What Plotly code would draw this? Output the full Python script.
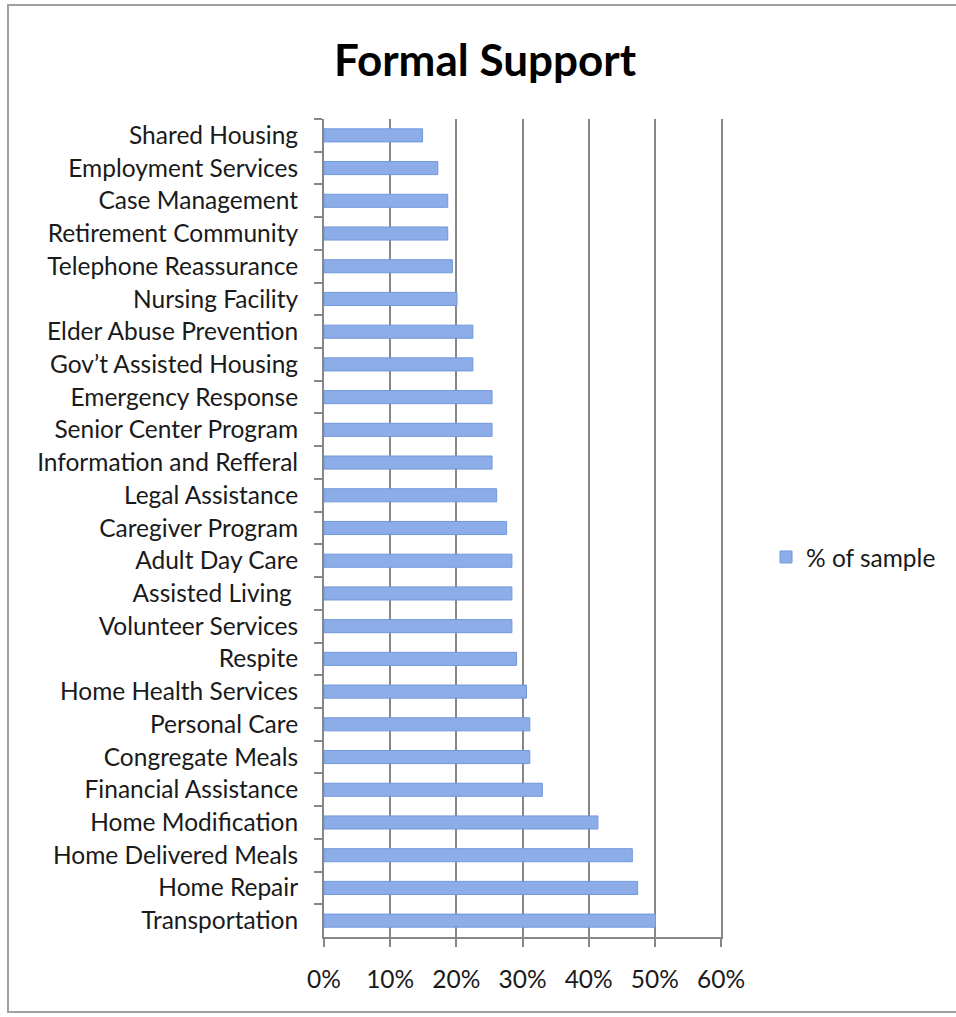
import plotly.graph_objects as go

categories = [
    "Shared Housing", "Employment Services", "Case Management", "Retirement Community",
    "Telephone Reassurance", "Nursing Facility", "Elder Abuse Prevention",
    "Gov\u2019t Assisted Housing", "Emergency Response", "Senior Center Program",
    "Information and Refferal", "Legal Assistance", "Caregiver Program",
    "Adult Day Care", "Assisted Living ", "Volunteer Services", "Respite",
    "Home Health Services", "Personal Care", "Congregate Meals",
    "Financial Assistance", "Home Modification", "Home Delivered Meals",
    "Home Repair", "Transportation",
]
pct_of_sample = [
    0.149, 0.172, 0.187, 0.187, 0.194, 0.201, 0.225, 0.225, 0.254, 0.254,
    0.254, 0.261, 0.276, 0.284, 0.284, 0.284, 0.291, 0.306, 0.311, 0.311,
    0.330, 0.414, 0.466, 0.474, 0.501,
]
x_ticks = [0, 0.1, 0.2, 0.3, 0.4, 0.5, 0.6]

FONT = "Lato"
GRID = "#878787"
FS = 24.5

fig = go.Figure()
fig.add_trace(go.Bar(
    x=pct_of_sample, y=categories, orientation="h", name="% of sample",
    marker=dict(color="#8cade8", line=dict(color="#7198dc", width=1)),
    width=0.4, showlegend=True,
))

fig.update_layout(
    width=956, height=1017,
    margin=dict(l=324, r=235, t=119, b=80),
    paper_bgcolor="white", plot_bgcolor="white",
    font=dict(family=FONT, size=FS, color="#1a1a1a"),
    title=dict(text="<b>Formal Support</b>", x=485/956, xanchor="center",
               y=1-61/1017, yanchor="middle", xref="container",
               yref="container", font=dict(family=FONT, size=44, color="black")),
    xaxis=dict(range=[0, 0.6], tickvals=x_ticks, tickformat=".0%",
               showgrid=True, gridcolor=GRID, gridwidth=2,
               showline=True, linecolor=GRID, linewidth=2,
               ticks="outside", ticklen=8, tickcolor=GRID, tickwidth=2,
               ticklabelstandoff=12, zeroline=False, fixedrange=True),
    yaxis=dict(autorange="reversed", showline=True, linecolor=GRID, linewidth=2,
               mirror=True,
               ticks="outside", ticklen=8, tickcolor=GRID, tickwidth=2,
               tickson="boundaries", ticklabelstandoff=19, showgrid=False),
    legend=dict(x=(766-324)/397, y=0.4645, xanchor="left", yanchor="middle",
                font=dict(family=FONT, size=FS), itemwidth=30),
    bargap=0.6,
)

fig.add_shape(type="rect", xref="paper", yref="paper",
              x0=(8-324)/397, x1=(960-324)/397, y0=(937-1012)/818, y1=(937-5)/818,
              line=dict(color="#a0a0a0", width=2), fillcolor="rgba(0,0,0,0)", layer="below")

fig.write_html("out.html")
